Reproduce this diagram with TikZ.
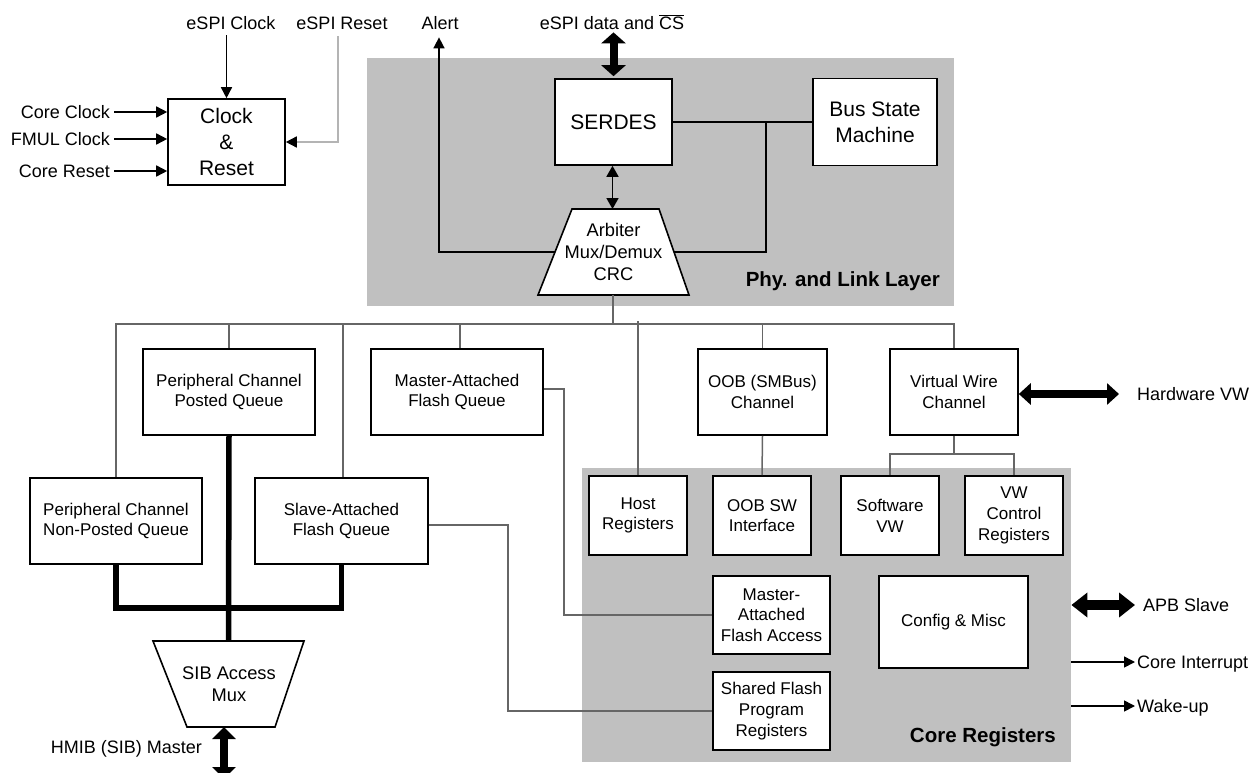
\documentclass[tikz,border=0pt]{standalone}
\usepackage{fontspec}
\setmainfont{Liberation Sans}
\usetikzlibrary{arrows.meta}
\definecolor{regiongray}{HTML}{C0C0C0}
\definecolor{wiregray}{HTML}{666666}
\definecolor{lightwire}{HTML}{B4B4B4}
\begin{document}
\begin{tikzpicture}[x=1pt,y=-1pt,
  box/.style={draw=black,line width=1.6pt,fill=white,align=center,inner sep=0pt,font=\fontsize{17}{20.7}\selectfont},
  bigbox/.style={box,font=\fontsize{21}{26}\selectfont},
  region/.style={fill=regiongray,draw=none,inner sep=0pt,anchor=north west},
  lbl/.style={inner sep=0pt,font=\fontsize{18}{21}\selectfont},
  muxlbl/.style={inner sep=0pt,align=center,font=\fontsize{18.3}{21.7}\selectfont},
  ttl/.style={inner sep=0pt,font=\fontsize{20.5}{24}\selectfont\bfseries},
  wire/.style={draw=black,line width=1.6pt},
  gwire/.style={draw=wiregray,line width=1.5pt},
  arr/.style={wire,-{Triangle[length=11pt,width=11pt]}},
  darr/.style={wire,{Triangle[length=11pt,width=12pt]}-{Triangle[length=11pt,width=12pt]}},
  fatv/.style={draw=black,line width=8pt,{Triangle[length=11pt,width=24pt]}-{Triangle[length=11pt,width=24pt]}},
  fathw/.style={draw=black,line width=8pt,{Triangle[length=12pt,width=21pt]}-{Triangle[length=12pt,width=21pt]}},
  fatapb/.style={draw=black,line width=10pt,{Triangle[length=16pt,width=24pt]}-{Triangle[length=16pt,width=24pt]}},
  sibline/.style={draw=black,line width=5.5pt},
]
\useasboundingbox (0,0) rectangle (1252,773);

% regions
\node[region,minimum width=587pt,minimum height=248pt] (phy) at (367,58) {};
\node[region,minimum width=489pt,minimum height=294pt] (core) at (582,468) {};
\node[ttl,anchor=east] (phylbl) at (940,281) {Phy. and Link Layer};
\node[ttl,anchor=east] (corelbl) at (1056,737) {Core Registers};

% coordinates
\coordinate (bus) at (0,324);
\coordinate (arbT) at (613,209);
\coordinate (arbB) at (613,295);
\coordinate (arbL) at (555,252);
\coordinate (arbR) at (674,252);
\coordinate (jn) at (766,122);
\coordinate (sibT) at (228.5,641);
\coordinate (sibB) at (224,727);
\coordinate (hmibEnd) at (224,779);

% external labels
\node[lbl,anchor=base] (espiclk) at (231,29.5) {eSPI Clock};
\node[lbl,anchor=base] (espirst) at (342,29.5) {eSPI Reset};
\node[lbl,anchor=base] (alert) at (440,29.5) {Alert};
\node[lbl,anchor=base] (espidata) at (612,29.5) {eSPI data and $\overline{\mbox{CS}}$};
\node[lbl,anchor=east] (coreclk) at (110,112) {Core Clock};
\node[lbl,anchor=east] (fmulclk) at (110,139) {FMUL Clock};
\node[lbl,anchor=east] (corerst) at (110,171) {Core Reset};
\node[lbl,anchor=west] (hwvw) at (1137,394) {Hardware VW};
\node[lbl,anchor=west] (apb) at (1143,605) {APB Slave};
\node[lbl,anchor=west] (cint) at (1137,664) {Core Interrupt};
\node[lbl,anchor=west] (wake) at (1137,708) {Wake-up};
\node[lbl,anchor=east] (hmib) at (202,749) {HMIB (SIB) Master};

% boxes
\node[bigbox,minimum width=117pt,minimum height=86pt] (clk) at (226.5,142) {Clock\\\&\\Reset};
\node[bigbox,minimum width=117pt,minimum height=86pt] (serdes) at (613.5,122) {SERDES};
\node[bigbox,minimum width=124pt,minimum height=87pt] (bsm) at (875,122) {Bus State\\Machine};

\node[box,minimum width=172pt,minimum height=86pt] (ncnp) at (116,521) {Peripheral Channel\\Non-Posted Queue};
\node[box,minimum width=172pt,minimum height=86pt] (pcpq) at (229,392) {Peripheral Channel\\Posted Queue};
\node[box,minimum width=173pt,minimum height=86pt] (saq) at (341.5,521) {Slave-Attached\\Flash Queue};
\node[box,minimum width=172pt,minimum height=86pt] (mafq) at (457,392) {Master-Attached\\Flash Queue};
\node[box,minimum width=129pt,minimum height=86pt] (oob) at (762.5,392) {OOB (SMBus)\\Channel};
\node[box,minimum width=128pt,minimum height=86pt] (vwc) at (954,392) {Virtual Wire\\Channel};

\node[box,minimum width=98pt,minimum height=79pt] (host) at (638,515.5) {Host\\Registers};
\node[box,minimum width=98pt,minimum height=79pt] (oobsw) at (762,515.5) {OOB SW\\Interface};
\node[box,minimum width=98pt,minimum height=79pt] (swvw) at (890,515.5) {Software\\VW};
\node[box,minimum width=98pt,minimum height=79pt] (vwctl) at (1014,515.5) {VW\\Control\\Registers};
\node[box,minimum width=117pt,minimum height=78pt] (mafa) at (771.5,615) {Master-\\Attached\\Flash Access};
\node[box,minimum width=117pt,minimum height=78pt] (sfpr) at (771.5,711) {Shared Flash\\Program\\Registers};
\node[box,minimum width=149pt,minimum height=92pt] (cfg) at (953.5,622) {Config \& Misc};

% muxes
\filldraw[wire,fill=white] (572,209) -- (659,209) -- (689,295) -- (538,295) -- cycle;
\node[muxlbl] (arb) at (613.5,252) {Arbiter\\Mux/Demux\\CRC};
\filldraw[wire,fill=white] (153,641) -- (304,641) -- (275,727) -- (187,727) -- cycle;
\node[muxlbl] (sib) at (229,684) {SIB Access\\Mux};

% clock & reset connectors
\draw[arr] ([yshift=-5.5pt]espiclk.south -| clk.north) -- (clk.north);
\draw[draw=lightwire,line width=1.5pt,-{Triangle[length=11pt,width=11pt,color=black]}] ([xshift=-4pt,yshift=-6.5pt]espirst.south) |- (clk.east);
\draw[arr] ([xshift=4pt]coreclk.east) -- (coreclk.east -| clk.west);
\draw[arr] ([xshift=4pt]fmulclk.east) -- (fmulclk.east -| clk.west);
\draw[arr] ([xshift=4pt]corerst.east) -- (corerst.east -| clk.west);

% phy connectors
\draw[fatv] ([yshift=-2.5pt]espidata.south -| serdes.north) -- ([yshift=2pt]serdes.north);
\draw[wire] (serdes.east) -- (serdes.east -| bsm.west);
\draw[wire] (jn) |- (arbR);
\draw[arr] (arbL) -| ([xshift=-1pt,yshift=-7.5pt]alert.south);
\draw[darr] ([xshift=-1pt]serdes.south) -- ([xshift=-0.5pt]arbT);

% bus
\draw[gwire] (ncnp.north) -- (ncnp.north |- bus) -- (vwc.north |- bus) -- (vwc.north);
\draw[gwire] (pcpq.north) -- (pcpq.north |- bus);
\draw[gwire] ([xshift=1.5pt]saq.north) -- ([xshift=1.5pt]saq.north |- bus);
\draw[gwire] ([xshift=3pt]mafq.north) -- ([xshift=3pt]mafq.north |- bus);
\draw[gwire] (oob.north) -- (oob.north |- bus);
\draw[gwire] (arbB) -- (arbB |- bus);
\draw[gwire] (host.north) -- ([yshift=3pt]host.north |- bus);
\draw[gwire] (oob.south) -- (oobsw.north);
\draw[gwire] (vwc.south) -- ++(0,18);
\draw[gwire] (swvw.north) |- ([yshift=-18pt]vwc.south) -| (vwctl.north);
\draw[gwire] ([yshift=3pt]mafq.east) -- ++(20,0) |- (mafa.west);
\draw[gwire] ([yshift=-4pt]saq.east) -- ++(79,0) |- (sfpr.west);

% SIB thick lines
\draw[sibline] (pcpq.south) -- (sibT);
\draw[sibline] (ncnp.south) -- ++(0,43) -| (saq.south);
\draw[draw=black,line width=8pt,{Triangle[length=12pt,width=23pt]}-{Triangle[length=12pt,width=23pt]}] (sibB) -- (hmibEnd);

% right side
\draw[fathw] (vwc.east |- hwvw.west) -- ([xshift=-18pt]hwvw.west);
\draw[fatapb] (core.east |- apb.west) -- ([xshift=-8pt]apb.west);
\draw[arr] ([yshift=2pt]core.east |- cint.west) -- ([xshift=-2pt,yshift=2pt]cint.west);
\draw[arr] ([yshift=2pt]core.east |- wake.west) -- ([xshift=-2pt,yshift=2pt]wake.west);
\end{tikzpicture}
\end{document}
